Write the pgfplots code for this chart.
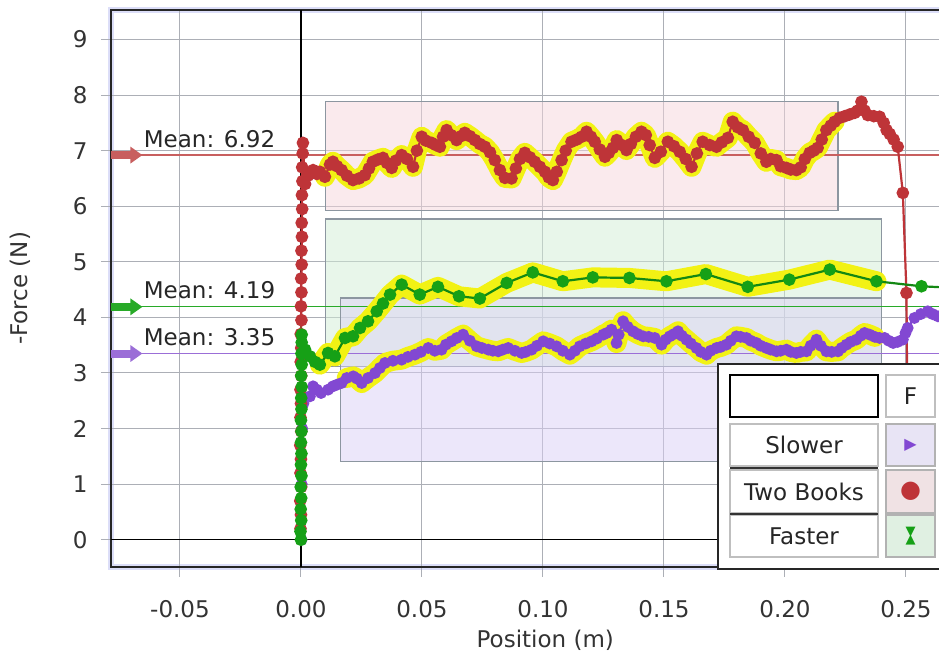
\documentclass[border=0pt]{standalone}
\usepackage{pgfplots}
\pgfplotsset{compat=1.18}
\usepackage{pgfplotstable}
\usepackage{fontspec}
\setmainfont{DejaVu Sans}
\usetikzlibrary{arrows.meta}

\definecolor{redc}{RGB}{190,52,56}
\definecolor{greenc}{RGB}{22,160,22}
\definecolor{purplec}{RGB}{130,72,210}
\definecolor{hl}{RGB}{242,242,20}
\definecolor{redmean}{RGB}{200,95,95}
\definecolor{greenmean}{RGB}{40,170,40}
\definecolor{purplemean}{RGB}{155,110,215}
\definecolor{gridc}{RGB}{172,175,182}
\definecolor{boxedge}{RGB}{140,150,160}
\definecolor{redbox}{RGB}{245,213,220}
\definecolor{greenbox}{RGB}{210,238,214}
\definecolor{purplebox}{RGB}{218,208,245}
\definecolor{frameband}{RGB}{220,222,248}

\newcommand\lf{\fontsize{11.5}{14}\selectfont}

% Two Books
\pgfplotstableread{
x y
-0.0002 0.20
0.0000 0.45
-0.0003 0.70
0.0001 0.95
-0.0002 1.20
0.0000 1.45
-0.0003 1.70
0.0001 1.95
-0.0002 2.20
0.0000 2.45
-0.0002 2.70
0.0001 2.95
-0.0001 3.20
0.0001 3.45
-0.0001 3.70
0.0002 3.95
0.0000 4.20
0.0002 4.45
0.0001 4.70
0.0003 4.95
0.0002 5.20
0.0004 5.45
0.0003 5.70
0.0005 5.95
0.0004 6.20
0.0006 6.45
0.0005 6.70
0.0007 6.95
0.0008 7.14
0.0017 6.40
0.0029 6.55
0.0050 6.65
0.0066 6.58
0.0078 6.62
0.0099 6.53
0.0120 6.75
0.0132 6.80
0.0149 6.72
0.0168 6.65
0.0190 6.55
0.0215 6.47
0.0240 6.50
0.0264 6.56
0.0281 6.68
0.0297 6.80
0.0318 6.84
0.0339 6.87
0.0355 6.78
0.0375 6.69
0.0392 6.82
0.0416 6.92
0.0438 6.85
0.0463 6.71
0.0479 7.00
0.0499 7.25
0.0516 7.18
0.0540 7.14
0.0558 7.10
0.0574 7.07
0.0587 7.25
0.0602 7.37
0.0620 7.28
0.0643 7.19
0.0661 7.26
0.0677 7.32
0.0698 7.26
0.0719 7.19
0.0739 7.12
0.0760 7.07
0.0781 6.97
0.0801 6.83
0.0822 6.65
0.0843 6.51
0.0870 6.50
0.0888 6.68
0.0905 6.85
0.0925 6.96
0.0946 6.88
0.0966 6.80
0.0987 6.71
0.1008 6.62
0.1024 6.52
0.1041 6.47
0.1057 6.62
0.1077 6.83
0.1094 7.00
0.1118 7.16
0.1140 7.20
0.1160 7.25
0.1180 7.34
0.1198 7.25
0.1214 7.16
0.1235 7.02
0.1256 6.89
0.1272 6.96
0.1289 7.05
0.1305 7.19
0.1326 7.10
0.1345 7.01
0.1363 7.12
0.1384 7.25
0.1407 7.34
0.1425 7.28
0.1441 7.10
0.1462 6.87
0.1487 6.98
0.1516 7.16
0.1541 7.08
0.1565 6.98
0.1590 6.85
0.1614 6.71
0.1636 6.95
0.1660 7.16
0.1689 7.10
0.1717 7.07
0.1739 7.15
0.1764 7.23
0.1784 7.52
0.1805 7.42
0.1826 7.37
0.1850 7.25
0.1875 7.14
0.1900 6.95
0.1923 6.80
0.1941 6.85
0.1965 6.83
0.1982 6.72
0.2006 6.69
0.2024 6.66
0.2047 6.65
0.2065 6.70
0.2082 6.85
0.2102 6.96
0.2119 7.00
0.2135 7.05
0.2152 7.20
0.2171 7.37
0.2189 7.45
0.2205 7.52
0.2226 7.59
0.2247 7.62
0.2267 7.65
0.2288 7.68
0.2300 7.72
0.2316 7.88
0.2329 7.72
0.2342 7.64
0.2367 7.62
0.2391 7.61
0.2408 7.50
0.2420 7.37
0.2433 7.30
0.2449 7.20
0.2466 7.07
0.2487 6.24
0.2502 4.44
0.2507 1.50
}\tbooks

% Faster
\pgfplotstableread{
x y
0.0000 0.00
-0.0002 0.15
0.0001 0.35
-0.0001 0.55
0.0001 0.75
-0.0001 0.95
0.0002 1.15
0.0000 1.35
0.0002 1.55
0.0000 1.75
0.0002 1.95
0.0000 2.15
0.0002 2.35
0.0001 2.55
0.0003 2.75
0.0001 2.95
0.0003 3.15
0.0002 3.35
0.0003 3.55
0.0003 3.69
0.0017 3.42
0.0037 3.30
0.0058 3.20
0.0078 3.15
0.0112 3.36
0.0140 3.30
0.0182 3.63
0.0215 3.66
0.0244 3.81
0.0277 3.93
0.0313 4.11
0.0339 4.25
0.0368 4.41
0.0416 4.59
0.0491 4.41
0.0566 4.55
0.0653 4.38
0.0739 4.34
0.0850 4.62
0.0958 4.81
0.1082 4.65
0.1206 4.72
0.1357 4.71
0.1510 4.65
0.1673 4.78
0.1846 4.55
0.2018 4.68
0.2185 4.86
0.2378 4.65
0.2564 4.56
0.2750 4.52
}\faster

% Slower
\pgfplotstableread{
x y
0.0002 0.00
0.0003 1.00
0.0005 2.00
0.0010 2.45
0.0037 2.58
0.0050 2.76
0.0066 2.70
0.0083 2.64
0.0112 2.70
0.0132 2.76
0.0149 2.79
0.0168 2.82
0.0189 2.91
0.0216 2.94
0.0231 2.90
0.0251 2.82
0.0277 2.91
0.0306 3.00
0.0326 3.09
0.0347 3.18
0.0380 3.22
0.0416 3.24
0.0442 3.29
0.0471 3.33
0.0496 3.38
0.0526 3.45
0.0553 3.40
0.0581 3.42
0.0599 3.51
0.0622 3.57
0.0644 3.63
0.0670 3.69
0.0698 3.58
0.0726 3.48
0.0748 3.45
0.0774 3.42
0.0793 3.40
0.0815 3.39
0.0834 3.42
0.0856 3.45
0.0884 3.40
0.0912 3.36
0.0929 3.38
0.0953 3.42
0.0975 3.49
0.1001 3.57
0.1028 3.53
0.1056 3.48
0.1082 3.40
0.1111 3.33
0.1132 3.40
0.1152 3.48
0.1177 3.53
0.1201 3.57
0.1223 3.62
0.1249 3.69
0.1264 3.72
0.1283 3.78
0.1304 3.54
0.1313 3.69
0.1331 3.93
0.1350 3.83
0.1372 3.75
0.1392 3.70
0.1414 3.66
0.1437 3.65
0.1462 3.63
0.1490 3.51
0.1507 3.60
0.1524 3.66
0.1541 3.70
0.1558 3.75
0.1574 3.67
0.1593 3.60
0.1611 3.53
0.1634 3.45
0.1652 3.38
0.1676 3.33
0.1693 3.40
0.1717 3.45
0.1735 3.47
0.1758 3.51
0.1776 3.58
0.1799 3.66
0.1817 3.65
0.1841 3.63
0.1859 3.58
0.1882 3.54
0.1900 3.49
0.1923 3.45
0.1941 3.42
0.1965 3.39
0.1982 3.40
0.2006 3.42
0.2024 3.38
0.2047 3.36
0.2065 3.38
0.2089 3.39
0.2106 3.49
0.2130 3.60
0.2148 3.49
0.2171 3.39
0.2193 3.38
0.2219 3.39
0.2234 3.45
0.2254 3.51
0.2272 3.56
0.2295 3.60
0.2313 3.67
0.2329 3.72
0.2350 3.69
0.2371 3.65
0.2391 3.63
0.2412 3.63
0.2429 3.58
0.2447 3.54
0.2466 3.56
0.2487 3.60
0.2498 3.72
0.2507 3.81
0.2535 3.99
0.2561 4.06
0.2590 4.11
0.2610 4.06
0.2632 4.02
0.2660 4.00
}\slower

\newcommand\hourglass{\vbox{\offinterlineskip\hbox{▼}\kern-1.2pt\hbox{▲}}}

\begin{document}
\begin{tikzpicture}
\useasboundingbox (0,0) rectangle (469.5pt,327pt);
\clip (0,0) rectangle (469.5pt,327pt);
\begin{axis}[
  at={(55.5pt,43.5pt)}, anchor=south west,
  width=420pt, height=278.5pt, scale only axis,
  xmin=-0.0785, xmax=0.2686, ymin=-0.49, ymax=9.53,
  xtick={-0.05,0,0.05,0.1,0.15,0.2,0.25},
  ytick={0,1,2,3,4,5,6,7,8,9},
  scaled x ticks=false,
  /pgf/number format/assume math mode=true,
  xticklabel style={/pgf/number format/fixed, /pgf/number format/fixed zerofill, /pgf/number format/precision=2},
  xticklabel style={anchor=center, inner sep=0pt, yshift=-16pt, font=\lf, text=black!80},
  yticklabel style={anchor=east, inner sep=0pt, xshift=-6.5pt, font=\lf, text=black!80},
  tick align=outside, tick pos=left, major tick length=5pt,
  tick style={gridc, line width=0.5pt},
  grid=major, grid style={gridc, line width=0.5pt},
  axis line style={black!85, line width=0.7pt},
  axis background/.style={draw=frameband, line width=3pt},
  xlabel={Position (m)}, ylabel={-Force (N)},
  xlabel style={at={(rel axis cs:0.517,-0.1311)}, anchor=center, font=\lf, text=black!80},
  ylabel style={at={(rel axis cs:-0.1083,0.5)}, anchor=center, font=\lf, text=black!80},
]
% axes through origin
\draw[black, line width=0.6pt] (axis cs:0,-0.49) -- (axis cs:0,9.53);
\draw[black, line width=0.6pt] (axis cs:-0.0785,0) -- (axis cs:0.2686,0);

% statistics boxes
\addplot[draw=boxedge, line width=0.6pt, fill=redbox, fill opacity=0.5] coordinates {(0.0103,5.92) (0.2219,5.92) (0.2219,7.89) (0.0103,7.89)} -- cycle;
\addplot[draw=boxedge, line width=0.6pt, fill=greenbox, fill opacity=0.5] coordinates {(0.0103,3.12) (0.2400,3.12) (0.2400,5.77) (0.0103,5.77)} -- cycle;
\addplot[draw=boxedge, line width=0.6pt, fill=purplebox, fill opacity=0.5] coordinates {(0.0164,1.41) (0.2400,1.41) (0.2400,4.35) (0.0164,4.35)} -- cycle;

% mean lines
\addplot[redmean, line width=0.6pt] coordinates {(-0.0785,6.92) (0.2686,6.92)};
\addplot[greenmean, line width=0.6pt] coordinates {(-0.0785,4.19) (0.2686,4.19)};
\addplot[purplemean, line width=0.6pt] coordinates {(-0.0785,3.35) (0.2686,3.35)};
\draw[redmean, line width=4pt, -{Triangle[length=6pt,width=8pt]}] (axis cs:-0.0785,6.92) -- (axis cs:-0.0655,6.92);
\draw[greenmean, line width=4pt, -{Triangle[length=6pt,width=8pt]}] (axis cs:-0.0785,4.19) -- (axis cs:-0.0655,4.19);
\draw[purplemean, line width=4pt, -{Triangle[length=6pt,width=8pt]}] (axis cs:-0.0785,3.35) -- (axis cs:-0.0655,3.35);
\node[anchor=base west, inner sep=0pt, font=\lf, text=black!85] at ([yshift=4pt]axis cs:-0.0651,6.92) {Mean: 6.92};
\node[anchor=base west, inner sep=0pt, font=\lf, text=black!85] at ([yshift=4pt]axis cs:-0.0651,4.19) {Mean: 4.19};
\node[anchor=base west, inner sep=0pt, font=\lf, text=black!85] at ([yshift=4pt]axis cs:-0.0651,3.35) {Mean: 3.35};

% highlighted (selected) ranges
\addplot[hl, line width=10pt, line join=round, line cap=round, restrict x to domain=0.0099:0.2222] table {\tbooks};
\addplot[hl, line width=10pt, line join=round, line cap=round, restrict x to domain=0.0075:0.2380] table {\faster};
\addplot[hl, line width=10pt, line join=round, line cap=round, restrict x to domain=0.0170:0.2380] table {\slower};

% series
\addplot[purplec, line width=1.1pt, mark=*, mark size=2.4pt, mark options={fill=purplec, draw=purplec}] table {\slower};
\addplot[redc, line width=1.1pt, mark=*, mark size=2.6pt, mark options={fill=redc, draw=redc}] table {\tbooks};
\addplot[greenc!85!black, line width=1.1pt, mark=*, mark size=2.6pt, mark options={fill=greenc, draw=greenc}] table {\faster};
\end{axis}

% legend table
\draw[black!85, line width=0.7pt, fill=white] (359pt,42.5pt) rectangle (490pt,145pt);
\draw[black, line width=0.8pt, fill=white] (365pt,118.5pt) rectangle (439pt,139.5pt);
\draw[black!25, line width=0.6pt] (443pt,118.5pt) rectangle (467.5pt,139.5pt);
\node[font=\lf, text=black!85] at (455.25pt,129pt) {F};
\draw[black!25, line width=0.6pt] (365pt,94pt) rectangle (439pt,115pt);
\draw[black!25, line width=0.6pt] (365pt,70.5pt) rectangle (439pt,92pt);
\draw[black!25, line width=0.6pt] (365pt,48.5pt) rectangle (439pt,69.5pt);
\draw[black!80, line width=0.7pt] (365pt,93pt) -- (439pt,93pt);
\draw[black!80, line width=0.7pt] (365pt,70pt) -- (439pt,70pt);
\node[font=\lf, text=black!85] at (402pt,104.5pt) {Slower};
\node[font=\lf, text=black!85] at (402pt,81.25pt) {Two Books};
\node[font=\lf, text=black!85] at (402pt,59pt) {Faster};
\draw[black!30, line width=0.6pt, fill={rgb,255:red,232;green,228;blue,245}] (443pt,94pt) rectangle (467.5pt,115pt);
\draw[black!30, line width=0.6pt, fill={rgb,255:red,240;green,226;blue,228}] (443pt,70.5pt) rectangle (467.5pt,92pt);
\draw[black!30, line width=0.6pt, fill={rgb,255:red,224;green,240;blue,226}] (443pt,48.5pt) rectangle (467.5pt,69.5pt);
\node[font=\fontsize{8}{9}\selectfont, text=purplec] at (455.25pt,104.5pt) {▶};
\node[font=\fontsize{12}{13}\selectfont, text=redc] at (455.25pt,81.25pt) {●};
\node[font=\fontsize{6.5}{7}\selectfont, text=greenc, inner sep=0pt] at (455.25pt,59pt) {\hourglass};
\end{tikzpicture}
\end{document}
